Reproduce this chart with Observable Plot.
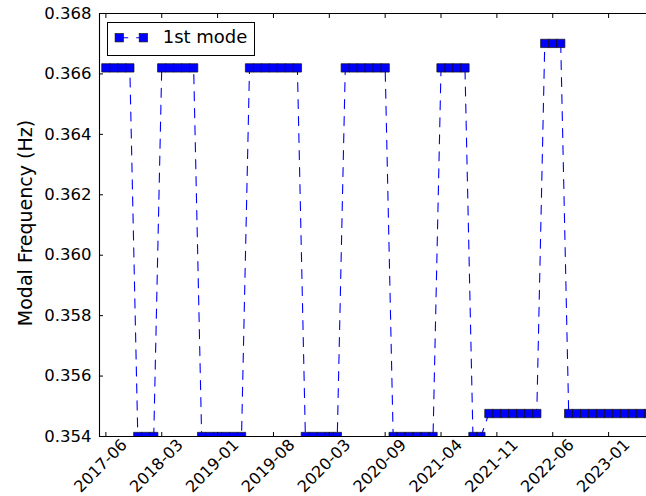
<!DOCTYPE html>
<html>
<head>
<meta charset="utf-8">
<script src="https://cdn.jsdelivr.net/npm/d3@7"></script>
<script src="https://cdn.jsdelivr.net/npm/@observablehq/plot@0.6"></script>
<style>
  body { margin: 0; background: #fff; font-family: "DejaVu Sans", sans-serif; }
  #fig { position: relative; width: 646px; height: 496px; overflow: hidden; }
  #legend { position: absolute; left: 107px; top: 22px; }
</style>
</head>
<body>
<div id="fig"></div>
<script>
// Tick labels sit on every 7th sample
const tickSamples = [0, 7, 14, 21, 28, 35, 42, 49, 56, 63];
const tickLabels = ["2017-06", "2018-03", "2019-01", "2019-08", "2020-03",
                    "2020-09", "2021-04", "2021-11", "2022-06", "2023-01"];
const yTicks = [0.354, 0.356, 0.358, 0.360, 0.362, 0.364, 0.366, 0.368];

// Identified first-mode frequency (Hz), one value per sample
const firstMode = [
  0.36620, 0.36620, 0.36620, 0.36620,
  0.35400, 0.35400, 0.35400,
  0.36620, 0.36620, 0.36620, 0.36620, 0.36620,
  0.35400, 0.35400, 0.35400, 0.35400, 0.35400, 0.35400,
  0.36620, 0.36620, 0.36620, 0.36620, 0.36620, 0.36620, 0.36620,
  0.35400, 0.35400, 0.35400, 0.35400, 0.35400,
  0.36620, 0.36620, 0.36620, 0.36620, 0.36620, 0.36620,
  0.35400, 0.35400, 0.35400, 0.35400, 0.35400, 0.35400,
  0.36620, 0.36620, 0.36620, 0.36620,
  0.35400, 0.35400,
  0.35476, 0.35476, 0.35476, 0.35476, 0.35476, 0.35476, 0.35476,
  0.36701, 0.36701, 0.36701,
  0.35476, 0.35476, 0.35476, 0.35476, 0.35476, 0.35476, 0.35476, 0.35476,
  0.35476, 0.35476, 0.35476
];

const rows = firstMode.map((f, i) => ({sample: i, f}));
const blue = "#0000ff";
const xMin = -0.8, xMax = 67.75;

const chart = Plot.plot({
  width: 646,
  height: 496,
  marginTop: 13,
  marginBottom: 60,
  marginLeft: 99,
  marginRight: 0,
  style: {fontFamily: "DejaVu Sans, sans-serif", fontSize: "16px", color: "#000", background: "#fff"},
  x: {domain: [xMin, xMax], axis: null},
  y: {domain: [0.354, 0.368], axis: null},
  marks: [
    Plot.line(rows, {x: "sample", y: "f", stroke: blue, strokeWidth: 1.1, strokeDasharray: "9,8", clip: true}),
    Plot.dot(rows, {x: "sample", y: "f", symbol: "square", r: 4.7, fill: blue, stroke: "#111", strokeWidth: 0.7, clip: true}),
    // axes frame (left, bottom, top)
    Plot.ruleY([0.354, 0.368], {stroke: "#000", strokeWidth: 1.1}),
    Plot.ruleX([xMin], {stroke: "#000", strokeWidth: 1.1}),
    // inward tick marks
    Plot.axisX(tickSamples, {anchor: "bottom", tickSize: -4, fill: "none", label: null}),
    Plot.axisX(tickSamples, {anchor: "top", tickSize: -4, fill: "none", label: null}),
    Plot.axisY(yTicks, {anchor: "left", tickSize: -4, fill: "none", label: null}),
    // y tick labels
    Plot.axisY(yTicks, {anchor: "left", tickSize: 0, tickPadding: 8, tickFormat: d3.format(".3f"), label: null, fontSize: 16.5}),
    // rotated date labels under the x ticks
    Plot.text(tickSamples, {
      x: d => d, text: (d, k) => tickLabels[k], frameAnchor: "bottom",
      dy: 33, dx: -1.5, rotate: -45, textAnchor: "middle", fontSize: 16, fill: "#000"
    }),
    Plot.text(["Modal Frequency (Hz)"], {
      frameAnchor: "left", dx: -74, dy: -2, rotate: -90, textAnchor: "middle", fontSize: 19, fill: "#000"
    })
  ]
});

const fig = document.getElementById("fig");
fig.appendChild(chart);

// legend box
fig.insertAdjacentHTML("beforeend", `
<svg id="legend" width="148" height="34">
  <rect x="0.5" y="0.5" width="147" height="33" fill="#fff" stroke="#000" stroke-width="1"/>
  <line x1="12.2" y1="15.7" x2="36.3" y2="15.7" stroke="${blue}" stroke-width="1.1" stroke-dasharray="9,8"/>
  <rect x="8.1" y="11.6" width="8.3" height="8.3" fill="${blue}" stroke="#111" stroke-width="0.7"/>
  <rect x="32.2" y="11.6" width="8.3" height="8.3" fill="${blue}" stroke="#111" stroke-width="0.7"/>
  <text x="55.7" y="20.7" font-family="DejaVu Sans, sans-serif" font-size="18" fill="#000">1st mode</text>
</svg>`);
</script>
</body>
</html>
